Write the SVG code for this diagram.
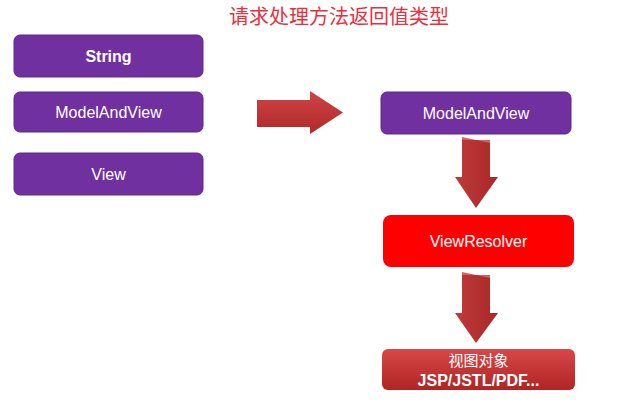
<svg xmlns="http://www.w3.org/2000/svg" width="619" height="402" viewBox="0 0 619 402">
<defs>
<linearGradient id="gH" x1="0" y1="0" x2="0" y2="1">
<stop offset="0" stop-color="#d04444"/><stop offset="1" stop-color="#b02828"/>
</linearGradient>
<linearGradient id="gV" x1="0" y1="0" x2="1" y2="0">
<stop offset="0" stop-color="#c03a3a"/><stop offset="1" stop-color="#a82828"/>
</linearGradient>
<linearGradient id="gB" x1="0" y1="0" x2="0" y2="1">
<stop offset="0" stop-color="#d84848"/><stop offset="1" stop-color="#b02424"/>
</linearGradient>
<style>
.p{fill:#7030a0;stroke:#5e2888;stroke-width:1}
.t{font-family:"Liberation Sans",Arial,sans-serif;font-size:16px;fill:#fff;text-anchor:middle}
.b{font-weight:bold}
</style>
</defs>
<rect width="619" height="402" fill="#fff"/>
<text x="339" y="24" font-family="'Noto Sans CJK SC',serif" font-size="20" fill="#e8303c" text-anchor="middle">请求处理方法返回值类型</text>
<g id="n-string"><rect class="p" x="14" y="35" width="189" height="42" rx="6"/><text class="t b" x="108.5" y="62">String</text></g>
<g id="n-mav-left"><rect class="p" x="14" y="92" width="189" height="40" rx="6"/><text class="t" x="108.5" y="118">ModelAndView</text></g>
<g id="n-view"><rect class="p" x="14" y="153" width="189" height="42" rx="6"/><text class="t" x="108.5" y="180">View</text></g>
<g id="n-mav-right"><rect class="p" x="381" y="92" width="190" height="42" rx="6"/><text class="t" x="476" y="119">ModelAndView</text></g>
<g id="n-resolver"><rect x="383" y="215" width="191" height="52" rx="8" fill="#ff0000"/><text class="t" x="478.5" y="247">ViewResolver</text></g>
<g id="n-viewobj"><rect x="382" y="349" width="193" height="41" rx="6" fill="url(#gB)"/><text x="478.5" y="366" font-family="'Noto Sans CJK SC',sans-serif" font-size="15" fill="#fff" text-anchor="middle">视图对象</text><text class="t b" x="478.5" y="386">JSP/JSTL/PDF...</text></g>
<g id="connectors">
<polygon points="257,100 310,100 310,91 343,112.5 310,134 310,127 257,127" fill="url(#gH)"/>
<polygon points="462,140 490,140 490,177 498,177 476,208 455,177 462,177" fill="url(#gV)"/>
<path d="M462,140 L462,137 L490,143 L490,140 Z" fill="#d86060"/>
<polygon points="462,275 490,275 490,313 498,313 476,343 455,313 462,313" fill="url(#gV)"/>
<path d="M462,275 L462,272 L490,278 L490,275 Z" fill="#d86060"/>
</g>
</svg>
